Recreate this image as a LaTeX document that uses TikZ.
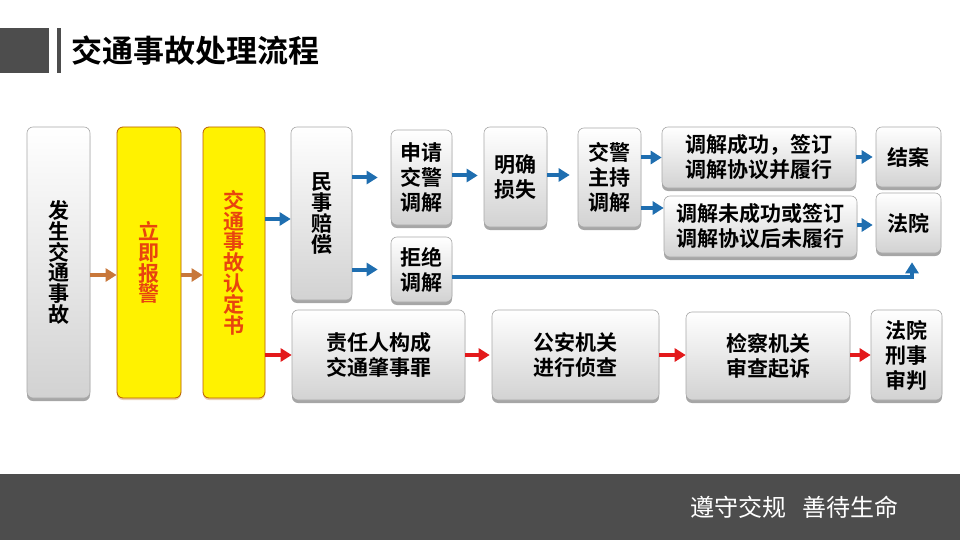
\documentclass[tikz,border=0pt]{standalone}
\usepackage{fontspec}
\setmainfont{Noto Sans CJK SC}[BoldFont=* Bold]
\usetikzlibrary{arrows.meta,shadows,calc}
\definecolor{hdrgray}{HTML}{4D4D4D}
\definecolor{arrblue}{HTML}{1F6EB0}
\definecolor{arrred}{HTML}{E3191B}
\definecolor{arrorange}{HTML}{C8773A}
\definecolor{ybord}{HTML}{B85C00}
\definecolor{ytext}{HTML}{E8440E}
\definecolor{boxbot}{HTML}{D2D2D2}
\definecolor{boxline}{HTML}{A8A8A8}
\tikzset{
  gbox/.style={draw=boxline, line width=0.6pt, rounded corners=6pt,
    top color=white, bottom color=boxbot, inner sep=0pt, align=center,
    font=\fontsize{21}{25}\selectfont\bfseries,
    drop shadow={shadow xshift=0pt, shadow yshift=-3pt, opacity=0.35, fill=black}},
  ybox/.style={draw=ybord, line width=0.8pt, rounded corners=6pt, fill=yellow,
    text=ytext, inner sep=0pt, align=center,
    font=\fontsize{21}{20.8}\selectfont\bfseries,
    drop shadow={shadow xshift=0pt, shadow yshift=-2pt, opacity=0.3, fill=ybord}},
  vtext/.style={font=\fontsize{21}{20.8}\selectfont\bfseries},
  arr/.style={line width=4pt, -{Triangle[width=13pt,length=11pt]}},
  barr/.style={arr, draw=arrblue},
  rarr/.style={arr, draw=arrred},
  oarr/.style={arr, draw=arrorange},
}
\begin{document}
\begin{tikzpicture}[x=1pt,y=-1pt]
\useasboundingbox (0,0) rectangle (960,540);
% header
\fill[hdrgray] (0,28) rectangle (49,73);
\fill[hdrgray] (57,28) rectangle (61,73);
\node[anchor=west, inner sep=0pt, font=\fontsize{31}{31}\selectfont\bfseries] (title) at (71,51) {交通事故处理流程};
% footer
\fill[hdrgray] (0,474) rectangle (960,540);
\node[anchor=west, inner sep=0pt, text=white, font=\fontsize{24}{24}\selectfont] (foot) at (690,507) {遵守交规\hspace{0.7em}善待生命};

% left column boxes
\node[gbox, vtext, minimum width=63pt, minimum height=271pt] (fs) at (58.5,262.5) {发\\生\\交\\通\\事\\故};
\node[ybox, minimum width=64pt, minimum height=271pt] (lj) at (149,262.5) {立\\即\\报\\警};
\node[ybox, minimum width=62pt, minimum height=271pt] (rd) at (234,262.5) {交\\通\\事\\故\\认\\定\\书};

% civil branch
\node[gbox, vtext, minimum width=61pt, minimum height=173pt] (mc) at (321.5,213.5) {民\\事\\赔\\偿};
\node[gbox, minimum width=61pt, minimum height=95pt] (sq) at (421.5,177.5) {申请\\交警\\调解};
\node[gbox, minimum width=61pt, minimum height=65pt] (jj) at (421.5,269.5) {拒绝\\调解};
\node[gbox, minimum width=63pt, minimum height=100pt] (mq) at (515.5,177) {明确\\损失};
\node[gbox, minimum width=63pt, minimum height=99pt] (zc) at (609.5,177.5) {交警\\主持\\调解};
\node[gbox, minimum width=194pt, minimum height=61pt] (cg) at (759,157.5) {调解成功，签订\\调解协议并履行};
\node[gbox, minimum width=193pt, minimum height=61pt] (wc) at (760.5,226.5) {调解未成功或签订\\调解协议后未履行};
\node[gbox, minimum width=65pt, minimum height=60pt] (ja) at (908.5,157) {结案};
\node[gbox, minimum width=65pt, minimum height=60pt] (fy) at (908.5,223) {法院};

% criminal branch
\node[gbox, minimum width=173pt, minimum height=90pt] (zr) at (378.5,355) {责任人构成\\交通肇事罪};
\node[gbox, minimum width=167pt, minimum height=90pt] (ga) at (575.5,355) {公安机关\\进行侦查};
\node[gbox, minimum width=164pt, minimum height=88pt] (jc) at (768,356) {检察机关\\审查起诉};
\node[gbox, minimum width=71pt, minimum height=90pt] (fx) at (906.5,355) {法院\\刑事\\审判};

% orange arrows
\coordinate (ljin) at ([yshift=-12.5pt]lj.west);
\draw[oarr] (fs.east |- ljin) -- (ljin);
\draw[oarr] (lj.east |- ljin) -- (rd.west |- ljin);

% blue arrows
\coordinate (mcin) at ([yshift=-5.5pt]mc.west);
\draw[barr] (rd.east |- mcin) -- (mcin);
\draw[barr, shorten >=13pt] (mc.east |- sq.west) -- (sq.west);
\draw[barr, shorten >=13pt] (mc.east |- jj.west) -- (jj.west);
\draw[barr, shorten >=6pt] ([yshift=2pt]sq.east) -- ([yshift=2pt]sq.east -| mq.west);
\draw[barr, shorten >=8pt] ([yshift=2pt]mq.east) -- ([yshift=2pt]mq.east -| zc.west);
\draw[barr] (zc.east |- cg.west) -- (cg.west);
\coordinate (wcin) at ([yshift=18.5pt]wc.west);
\draw[barr] (zc.east |- wcin) -- (wcin);
\draw[barr, shorten >=3pt] (cg.east |- ja.west) -- (ja.west);
\coordinate (fyleft) at ([yshift=-2pt]fy.west);
\draw[barr, shorten >=3pt] (wc.east |- fyleft) -- (fyleft);
\coordinate (jjout) at ([yshift=-7.5pt]jj.east);
\coordinate (fyin) at ([xshift=3.5pt,yshift=-9pt]fy.south);
\draw[barr] (jjout) -| (fyin);

% red arrows
\draw[rarr] (rd.east |- zr.west) -- (zr.west);
\draw[rarr, shorten >=2pt] (zr.east) -- (ga.west);
\draw[rarr] (ga.east) -- (ga.east -| jc.west);
\draw[rarr] (jc.east |- fx.west) -- (fx.west);
\end{tikzpicture}
\end{document}
